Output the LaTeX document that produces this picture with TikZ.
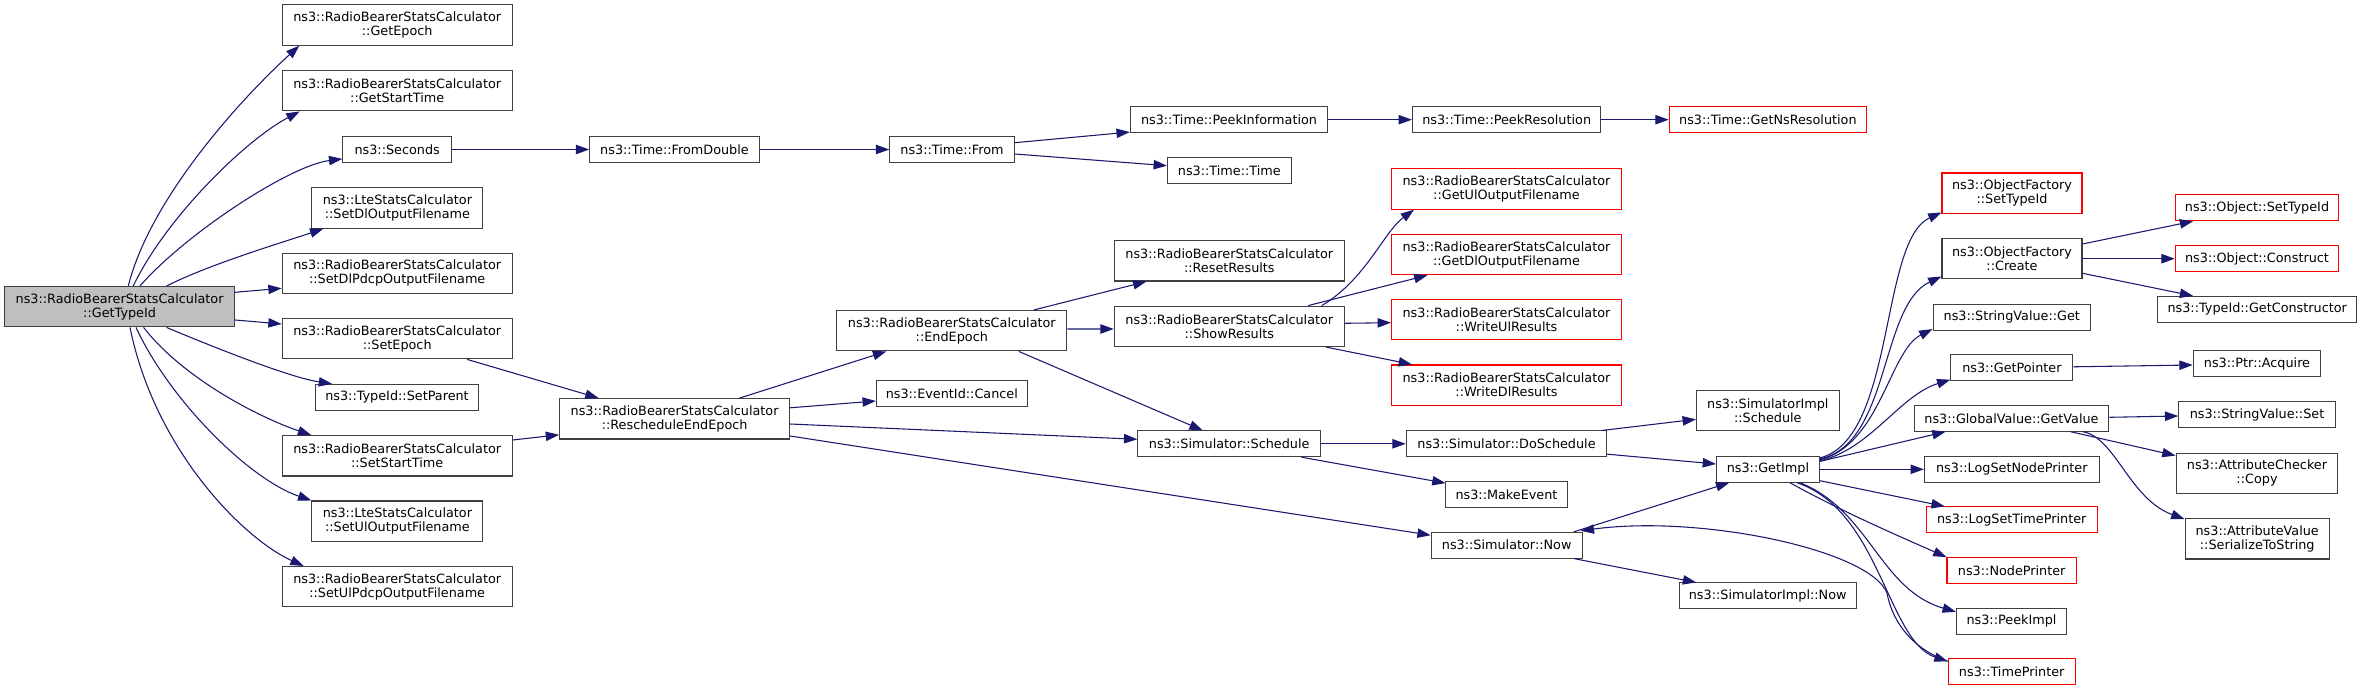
\documentclass[tikz,border=0pt]{standalone}
\usepackage{fontspec}
\setmainfont{DejaVu Sans}
\usetikzlibrary{arrows.meta,calc}
\definecolor{edgeblue}{HTML}{191970}
\definecolor{boxgray}{HTML}{404040}
\definecolor{rootfill}{HTML}{BFBFBF}
\definecolor{boxred}{HTML}{FF0000}
\newcommand\nfont{\fontsize{9.6}{10.5}\selectfont}
\tikzset{
  box/.style={draw=boxgray, fill=white, line width=0.8pt, align=center, inner sep=1pt,
    font=\nfont, minimum height=25.7*0.75pt},
  two/.style={minimum height=40.4*0.75pt},
  rednode/.style={draw=boxred},
  rootnode/.style={fill=rootfill},
  W/.style={minimum width=#1*0.75pt},
  edge/.style={draw=edgeblue, line width=0.8pt, -{Triangle[length=10pt,width=7pt]}}
}
\begin{document}
\begin{tikzpicture}[x=0.75pt,y=-0.75pt]
\fill[white] (0,0) rectangle (2363,691);
\useasboundingbox (0,0) rectangle (2363,691);
% column 1
\node[box,two,rootnode,W=230] (main) at (119.6,306.7) {ns3::RadioBearerStatsCalculator\\::GetTypeId};
% column 2
\node[box,two,W=230] (getepoch) at (397.2,25) {ns3::RadioBearerStatsCalculator\\::GetEpoch};
\node[box,two,W=230] (getstart) at (397.2,90.7) {ns3::RadioBearerStatsCalculator\\::GetStartTime};
\node[box,W=108.7] (seconds) at (397.2,149.5) {ns3::Seconds};
\node[box,two,W=171] (setdlout) at (397.4,208) {ns3::LteStatsCalculator\\::SetDlOutputFilename};
\node[box,two,W=230] (setdlpdcp) at (397.2,273.3) {ns3::RadioBearerStatsCalculator\\::SetDlPdcpOutputFilename};
\node[box,two,W=230] (setepoch) at (397.2,338.7) {ns3::RadioBearerStatsCalculator\\::SetEpoch};
\node[box,W=162.7] (setparent) at (397,397.2) {ns3::TypeId::SetParent};
\node[box,two,W=230] (setstart) at (397.2,455.8) {ns3::RadioBearerStatsCalculator\\::SetStartTime};
\node[box,two,W=171] (setulout) at (397.4,521.2) {ns3::LteStatsCalculator\\::SetUlOutputFilename};
\node[box,two,W=230] (setulpdcp) at (397.2,586.7) {ns3::RadioBearerStatsCalculator\\::SetUlPdcpOutputFilename};
% column 3
\node[box,W=169.5] (fromdouble) at (674.5,149.5) {ns3::Time::FromDouble};
\node[box,two,W=230] (resched) at (674.6,418.8) {ns3::RadioBearerStatsCalculator\\::RescheduleEndEpoch};
% column 4
\node[box,W=124.4] (from) at (952,149.5) {ns3::Time::From};
\node[box,two,W=230] (endepoch) at (951.8,330.7) {ns3::RadioBearerStatsCalculator\\::EndEpoch};
\node[box,W=150.8] (cancel) at (951.8,393.3) {ns3::EventId::Cancel};
% column 5
\node[box,W=197.3] (peekinfo) at (1229,119.7) {ns3::Time::PeekInformation};
\node[box,W=123.7] (timetime) at (1229.3,170.3) {ns3::Time::Time};
\node[box,two,W=230] (reset) at (1229.3,260.8) {ns3::RadioBearerStatsCalculator\\::ResetResults};
\node[box,two,W=230] (show) at (1229.3,326.3) {ns3::RadioBearerStatsCalculator\\::ShowResults};
\node[box,W=182.6] (schedule) at (1229.2,443.8) {ns3::Simulator::Schedule};
% column 6
\node[box,W=188.4] (peekres) at (1506.7,119.7) {ns3::Time::PeekResolution};
\node[box,two,rednode,W=230] (getul) at (1506.5,189) {ns3::RadioBearerStatsCalculator\\::GetUlOutputFilename};
\node[box,two,rednode,W=230] (getdl) at (1506.5,254.5) {ns3::RadioBearerStatsCalculator\\::GetDlOutputFilename};
\node[box,two,rednode,W=230] (writeul) at (1506.5,319.7) {ns3::RadioBearerStatsCalculator\\::WriteUlResults};
\node[box,two,rednode,W=230] (writedl) at (1506.5,385.2) {ns3::RadioBearerStatsCalculator\\::WriteDlResults};
\node[box,W=200.4] (dosched) at (1506.5,443.8) {ns3::Simulator::DoSchedule};
\node[box,W=122.8] (makeevent) at (1506.5,494.5) {ns3::MakeEvent};
\node[box,W=150.9] (now) at (1506.7,545.2) {ns3::Simulator::Now};
% column 7
\node[box,rednode,W=197.3] (getns) at (1767.9,119.7) {ns3::Time::GetNsResolution};
\node[box,two,W=142.7] (implsched) at (1767.8,410.7) {ns3::SimulatorImpl\\::Schedule};
\node[box,W=102.7] (getimpl) at (1767.9,469.3) {ns3::GetImpl};
\node[box,W=177.3] (implnow) at (1767.7,595.8) {ns3::SimulatorImpl::Now};
% column 8
\node[box,two,rednode,W=140] (ofsettype) at (2012,193.2) {ns3::ObjectFactory\\::SetTypeId};
\node[box,two,W=140] (ofcreate) at (2012,258.7) {ns3::ObjectFactory\\::Create};
\node[box,W=157.5] (svget) at (2011.8,317.2) {ns3::StringValue::Get};
\node[box,W=122] (getpointer) at (2011.9,367.8) {ns3::GetPointer};
\node[box,W=194.7] (gvgetvalue) at (2011.5,418.3) {ns3::GlobalValue::GetValue};
\node[box,W=174.7] (lognode) at (2011.8,469.3) {ns3::LogSetNodePrinter};
\node[box,rednode,W=170.8] (logtime) at (2011.7,519.8) {ns3::LogSetTimePrinter};
\node[box,rednode,W=129.4] (nodeprinter) at (2011.7,570.5) {ns3::NodePrinter};
\node[box,W=110.3] (peekimpl) at (2011.5,621.2) {ns3::PeekImpl};
\node[box,rednode,W=127] (timeprinter) at (2011.7,671.7) {ns3::TimePrinter};
% column 9
\node[box,rednode,W=163.4] (objsettype) at (2257,207.8) {ns3::Object::SetTypeId};
\node[box,rednode,W=163.4] (objconstruct) at (2257,258.7) {ns3::Object::Construct};
\node[box,W=199] (getctor) at (2257.2,309.3) {ns3::TypeId::GetConstructor};
\node[box,W=127.5] (acquire) at (2257,363.8) {ns3::Ptr::Acquire};
\node[box,W=156.4] (svset) at (2257,414.5) {ns3::StringValue::Set};
\node[box,two,W=161.8] (attrcopy) at (2257,473.3) {ns3::AttributeChecker\\::Copy};
\node[box,two,W=144.3] (serialize) at (2257.2,538.8) {ns3::AttributeValue\\::SerializeToString};
\coordinate (tpbend) at (1887,593);

% edges from root
\draw[edge] ($(main.north)+(8.7,0)$) .. controls +(21.7,-86.7) and +(-60,54.7) .. ($(getepoch.south west)+(17.6,0)$);
\draw[edge] ($(main.north)+(13.7,0)$) .. controls +(31.7,-66.7) and +(-55.4,29.3) .. ($(getstart.south west)+(18,0)$);
\draw[edge] ($(main.north)+(20.4,0)$) .. controls +(45,-51.7) and +(-52.9,6.7) .. ($(seconds.south west)+(0,-4)$);
\draw[edge] ($(main.north)+(47,0)$) .. controls +(43,-21.7) and +(-44,14.7) .. ($(setdlout.south west)+(12,0)$);
\draw[edge] ($(main.east)+(0,-14.4)$) -- ($(setdlpdcp.west)+(0,15)$);
\draw[edge] ($(main.east)+(0,13.3)$) -- ($(setepoch.west)+(0,-14.7)$);
\draw[edge] ($(main.south)+(47,0)$) .. controls +(43.4,18.3) and +(-42.7,-6.3) .. ($(setparent.north west)+(17,0)$);
\draw[edge] ($(main.south)+(24,0)$) .. controls +(41.4,53.3) and +(-47,-15.7) .. ($(setstart.north west)+(29.6,0)$);
\draw[edge] ($(main.south)+(16.4,0)$) .. controls +(34,73.3) and +(-61.9,-21) .. (setulout.north west);
\draw[edge] ($(main.south)+(10.4,0)$) .. controls +(25,123.3) and +(-59.4,-26.7) .. ($(setulpdcp.north west)+(22,0)$);
% time chain
\draw[edge] (seconds.east) -- (fromdouble.west);
\draw[edge] (fromdouble.east) -- (from.west);
\draw[edge] ($(from.east)+(0,-6.8)$) -- ($(peekinfo.south west)+(0,-1)$);
\draw[edge] ($(from.east)+(0,4.5)$) -- ($(timetime.west)+(0,-4.6)$);
\draw[edge] (peekinfo.east) -- (peekres.west);
\draw[edge] (peekres.east) -- (getns.west);
% reschedule
\draw[edge] ($(setepoch.south)+(70,0)$) -- ($(resched.north west)+(39.5,0)$);
\draw[edge] ($(setstart.east)+(0,-15.8)$) -- ($(resched.west)+(0,16)$);
\draw[edge] ($(resched.north)+(65,0)$) -- ($(endepoch.south west)+(50,0)$);
\draw[edge] ($(resched.east)+(0,-11)$) -- ($(cancel.west)+(0,7.7)$);
\draw[edge] ($(resched.east)+(0,5.2)$) -- ($(schedule.west)+(0,-4.5)$);
\draw[edge] ($(resched.east)+(0,17.2)$) -- ($(now.west)+(0,-10)$);
% end epoch
\draw[edge] ($(endepoch.north)+(82,0)$) -- ($(reset.south west)+(32.6,0)$);
\draw[edge] ($(endepoch.east)+(0,-1.7)$) -- ($(show.west)+(0,2.7)$);
\draw[edge] ($(endepoch.south)+(67,0)$) -- ($(schedule.north)+(-26.5,0)$);
% show results
\draw[edge] ($(show.north east)+(-23,0)$) .. controls +(43.8,-26) and +(-30,22) .. ($(getul.south west)+(23,0)$);
\draw[edge] ($(show.north east)+(-36.6,0)$) -- ($(getdl.south west)+(36.5,0)$);
\draw[edge] ($(show.east)+(0,-3)$) -- ($(writeul.west)+(0,3)$);
\draw[edge] ($(show.south east)+(-19,0)$) -- ($(writedl.north west)+(21,0)$);
% schedule
\draw[edge] (schedule.east) -- (dosched.west);
\draw[edge] ($(schedule.south east)+(-19.6,0)$) -- ($(makeevent.north west)+(1,2)$);
\draw[edge] ($(dosched.north east)+(-5,0)$) -- ($(implsched.west)+(0,8.6)$);
\draw[edge] ($(dosched.south east)+(0,-3)$) -- ($(getimpl.west)+(0,-5.3)$);
% now
\draw[edge] ($(now.north east)+(-8.8,0)$) -- ($(getimpl.south west)+(13.3,0)$);
\draw[edge] ($(now.south east)+(-8.8,0)$) -- ($(implnow.north west)+(17.7,0)$);
\draw[edge] ($(timeprinter.north west)+(0,3)$) .. controls +(-33,-12) and +(6,32) .. (tpbend)
  .. controls +(-17,-43) and +(120,-16.3) .. ($(now.north east)+(-2,-1)$);
% getimpl fan
\draw[edge] ($(getimpl.north east)+(0,2)$) .. controls +(75.7,-18.7) and +(-62,28.2) .. ($(ofsettype.south west)+(0,-1.5)$);
\draw[edge] ($(getimpl.north east)+(0,3)$) .. controls +(70.7,-14.7) and +(-62,29.3) .. ($(ofcreate.south west)+(0,-3)$);
\draw[edge] ($(getimpl.north east)+(0,4)$) .. controls +(60.7,-15.7) and +(-43,21.5) .. ($(svget.south west)+(0,-1.5)$);
\draw[edge] ($(getimpl.north east)+(0,5)$) .. controls +(50.7,-11.7) and +(-50.9,15.8) .. ($(getpointer.south west)+(0,-1.5)$);
\draw[edge] ($(getimpl.north east)+(0,5.5)$) -- ($(gvgetvalue.south west)+(32,0)$);
\draw[edge] (getimpl.east) -- (lognode.west);
\draw[edge] ($(getimpl.south east)+(0,-2)$) -- ($(logtime.north west)+(19,0)$);
\draw[edge] ($(getimpl.south)+(22,0)$) .. controls +(50.1,28) and +(-47,-20.7) .. (nodeprinter.north west);
\draw[edge] ($(getimpl.south)+(32,0)$) .. controls +(70.1,28) and +(-76.4,-22.3) .. ($(peekimpl.north west)+(0,4)$);
\draw[edge] ($(getimpl.south)+(29,0)$) .. controls +(83.1,28) and +(-60.2,-20) .. ($(timeprinter.north west)+(0,3)$);
% object factory
\draw[edge] ($(ofcreate.east)+(0,-14.7)$) -- ($(objsettype.south west)+(18.4,0)$);
\draw[edge] (ofcreate.east) -- (objconstruct.west);
\draw[edge] ($(ofcreate.east)+(0,14.6)$) -- ($(getctor.north west)+(36,0)$);
\draw[edge] ($(getpointer.east)+(0,-1)$) -- ($(acquire.west)+(0,1.2)$);
\draw[edge] ($(gvgetvalue.east)+(0,-1)$) -- ($(svset.west)+(0,1.5)$);
\draw[edge] ($(gvgetvalue.south)+(59,0)$) -- ($(attrcopy.north west)+(0,3)$);
\draw[edge] ($(gvgetvalue.south)+(71,0)$) .. controls +(32.5,5) and +(-55.1,-20) .. ($(serialize.north west)+(0,1)$);
\end{tikzpicture}
\end{document}
